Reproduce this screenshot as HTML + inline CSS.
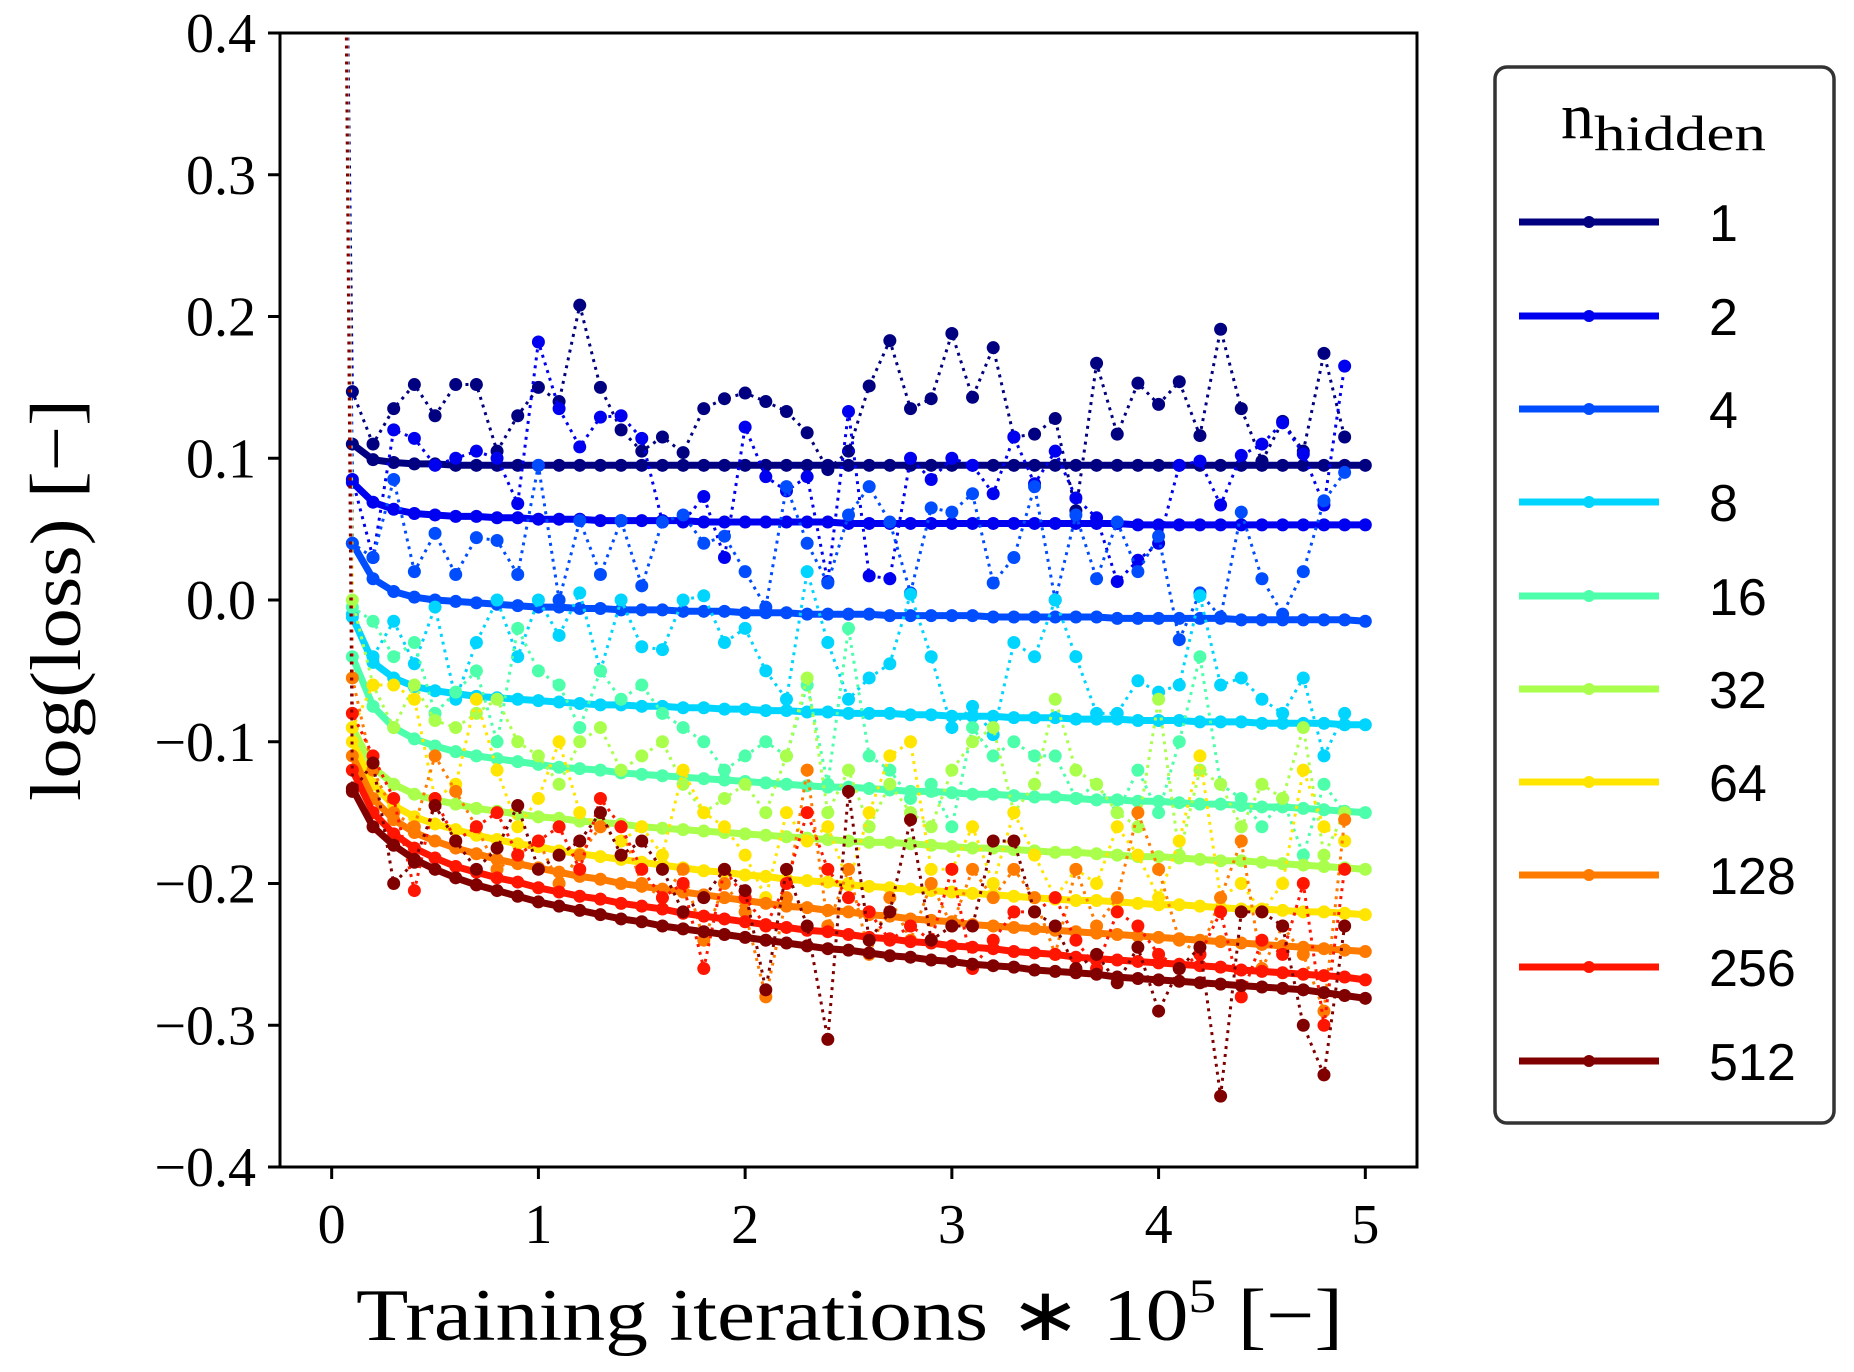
<!DOCTYPE html>
<html><head><meta charset="utf-8"><style>
html,body{margin:0;padding:0;background:#fff;}
svg{display:block;}
.tk{font-family:"Liberation Serif",serif;font-size:56px;fill:#000;}
.lg{font-family:"Liberation Sans",sans-serif;font-size:52px;fill:#000;}
</style></head><body>
<svg id="chart" width="1854" height="1372" viewBox="0 0 1854 1372" xmlns="http://www.w3.org/2000/svg">
<defs><clipPath id="plotclip"><rect x="280" y="33" width="1137" height="1134"/></clipPath></defs>
<rect x="0" y="0" width="1854" height="1372" fill="#fff"/>
<g id="series" clip-path="url(#plotclip)"></g>
<rect x="280" y="33" width="1137" height="1134" fill="none" stroke="#000" stroke-width="3"/>
<g id="axes"></g>
<text x="356" y="1340" textLength="987" lengthAdjust="spacingAndGlyphs" font-family="Liberation Serif, serif" font-size="74">Training iterations  ∗  10<tspan font-size="48" dy="-28">5</tspan><tspan dy="28"> [−]</tspan></text>
<text transform="translate(80,600) rotate(-90)" x="-201" y="0" textLength="402" lengthAdjust="spacingAndGlyphs" font-family="Liberation Serif, serif" font-size="72">log(loss) [−]</text>
<g id="legend">
<rect x="1495" y="67" width="339" height="1056" rx="12" fill="#fff" stroke="#333" stroke-width="3.5"/>
<text x="1561" y="138" font-family="Liberation Serif, serif" font-size="66">n<tspan font-size="50" dy="12" textLength="172" lengthAdjust="spacingAndGlyphs">hidden</tspan></text>
</g>
</svg>
<script>
const labels = ["1","2","4","8","16","32","64","128","256","512"];
const colors = ["#000080","#0000f1","#004dff","#00d5ff","#4dffaa","#aaff4d","#ffe500","#ff7b00","#ff1500","#800000"];
const xSmooth = [0.1,0.2,0.3,0.4,0.5,0.6,0.7,0.8,0.9,1.0,1.1,1.2,1.3,1.4,1.5,1.6,1.7,1.8,1.9,2.0,2.1,2.2,2.3,2.4,2.5,2.6,2.7,2.8,2.9,3.0,3.1,3.2,3.3,3.4,3.5,3.6,3.7,3.8,3.9,4.0,4.1,4.2,4.3,4.4,4.5,4.6,4.7,4.8,4.9,5.0];
const xNoisy = [0.1,0.2,0.3,0.4,0.5,0.6,0.7,0.8,0.9,1.0,1.1,1.2,1.3,1.4,1.5,1.6,1.7,1.8,1.9,2.0,2.1,2.2,2.3,2.4,2.5,2.6,2.7,2.8,2.9,3.0,3.1,3.2,3.3,3.4,3.5,3.6,3.7,3.8,3.9,4.0,4.1,4.2,4.3,4.4,4.5,4.6,4.7,4.8,4.9];
const spikeX = 0.06;
const spikeY = 0.6;
const smooth1 = [.110,.099,.097,.096,.096,.095,.095,.095,.095,.095,.095,.095,.095,.095,.095,.095,.095,.095,.095,.095,.095,.095,.095,.095,.095,.095,.095,.095,.095,.095,.095,.095,.095,.095,.095,.095,.095,.095,.095,.095,.095,.095,.095,.095,.095,.095,.095,.095,.095,.095];
const smooth2 = [.083,.069,.064,.061,.060,.059,.059,.058,.058,.057,.057,.057,.056,.056,.056,.056,.056,.055,.055,.055,.055,.055,.055,.055,.054,.054,.054,.054,.054,.054,.054,.054,.054,.054,.054,.054,.054,.054,.053,.053,.053,.053,.053,.053,.053,.053,.053,.053,.053,.053];
const smooth4 = [.040,.015,.006,.002,.000,-.001,-.002,-.003,-.004,-.005,-.005,-.006,-.006,-.007,-.007,-.007,-.008,-.008,-.008,-.009,-.009,-.009,-.010,-.010,-.010,-.010,-.011,-.011,-.011,-.011,-.011,-.012,-.012,-.012,-.012,-.012,-.012,-.013,-.013,-.013,-.013,-.013,-.013,-.014,-.014,-.014,-.014,-.014,-.014,-.015];
const smooth8 = [-.012,-.044,-.055,-.061,-.064,-.066,-.068,-.069,-.070,-.071,-.072,-.073,-.074,-.074,-.075,-.075,-.076,-.076,-.077,-.077,-.078,-.078,-.079,-.079,-.080,-.080,-.080,-.081,-.081,-.082,-.082,-.082,-.083,-.083,-.083,-.084,-.084,-.084,-.085,-.085,-.085,-.086,-.086,-.086,-.087,-.087,-.087,-.087,-.088,-.088];
const smooth16 = [-.040,-.075,-.090,-.098,-.103,-.107,-.110,-.112,-.114,-.116,-.118,-.119,-.120,-.122,-.123,-.124,-.125,-.126,-.127,-.128,-.129,-.130,-.131,-.132,-.132,-.133,-.134,-.135,-.135,-.136,-.137,-.137,-.138,-.139,-.139,-.140,-.141,-.141,-.142,-.142,-.143,-.144,-.144,-.145,-.146,-.146,-.147,-.148,-.149,-.150];
const smooth32 = [-.090,-.118,-.130,-.137,-.141,-.144,-.147,-.149,-.151,-.153,-.154,-.156,-.157,-.158,-.160,-.161,-.162,-.163,-.164,-.165,-.166,-.167,-.168,-.169,-.170,-.171,-.171,-.172,-.173,-.174,-.175,-.175,-.176,-.177,-.178,-.178,-.179,-.180,-.181,-.181,-.182,-.183,-.184,-.184,-.185,-.186,-.187,-.188,-.189,-.190];
const smooth64 = [-.100,-.130,-.145,-.153,-.158,-.162,-.166,-.169,-.172,-.174,-.177,-.179,-.181,-.183,-.185,-.187,-.189,-.191,-.192,-.194,-.195,-.197,-.198,-.199,-.201,-.202,-.203,-.204,-.205,-.206,-.207,-.208,-.209,-.210,-.211,-.212,-.212,-.213,-.214,-.215,-.215,-.216,-.217,-.218,-.218,-.219,-.220,-.220,-.221,-.222];
const smooth128 = [-.110,-.140,-.155,-.164,-.170,-.175,-.179,-.183,-.186,-.189,-.192,-.195,-.197,-.200,-.202,-.204,-.206,-.208,-.210,-.212,-.214,-.216,-.217,-.219,-.220,-.222,-.223,-.225,-.226,-.227,-.229,-.230,-.231,-.232,-.233,-.234,-.235,-.236,-.237,-.238,-.239,-.240,-.241,-.242,-.243,-.244,-.245,-.246,-.247,-.248];
const smooth256 = [-.120,-.150,-.165,-.175,-.182,-.188,-.192,-.196,-.199,-.203,-.206,-.209,-.211,-.214,-.216,-.218,-.221,-.223,-.225,-.227,-.229,-.231,-.233,-.234,-.236,-.238,-.239,-.241,-.242,-.244,-.245,-.246,-.248,-.249,-.250,-.252,-.253,-.254,-.255,-.256,-.257,-.258,-.259,-.261,-.262,-.263,-.264,-.265,-.266,-.268];
const smooth512 = [-.133,-.160,-.173,-.183,-.190,-.196,-.201,-.205,-.209,-.213,-.216,-.219,-.222,-.225,-.227,-.230,-.232,-.234,-.236,-.238,-.240,-.242,-.244,-.246,-.247,-.249,-.251,-.252,-.254,-.255,-.257,-.258,-.259,-.261,-.262,-.263,-.264,-.266,-.267,-.268,-.269,-.270,-.271,-.272,-.273,-.274,-.275,-.277,-.279,-.281];
const noisy1 = [.147,.110,.135,.152,.130,.152,.152,.105,.130,.150,.140,.208,.150,.120,.105,.115,.104,.135,.142,.146,.140,.133,.118,.092,.105,.151,.183,.135,.142,.188,.143,.178,.115,.117,.128,.063,.167,.117,.153,.138,.154,.116,.191,.135,.098,.126,.105,.174,.115];
const noisy2 = [.085,.030,.120,.114,.095,.100,.105,.100,.068,.182,.135,.108,.129,.130,.114,.055,.055,.073,.030,.122,.087,.077,.087,.013,.133,.017,.015,.100,.085,.100,.095,.075,.115,.082,.105,.072,.058,.013,.028,.040,.095,.098,.067,.102,.110,.125,.103,.067,.165];
const noisy4 = [.040,.030,.085,.020,.047,.018,.044,.042,.018,.095,.000,.056,.018,.056,.010,.055,.060,.040,.045,.020,-.005,.080,.040,.012,.060,.080,.055,.005,.065,.062,.075,.012,.030,.080,.000,.060,.015,.055,.020,.045,-.028,.005,-.012,.062,.015,-.010,.020,.070,.090];
const noisy8 = [-.010,-.040,-.015,-.045,-.005,-.070,-.030,.000,-.040,.000,-.025,.005,-.050,.000,-.033,-.035,.000,.003,-.030,-.020,-.050,-.070,.020,-.030,-.070,-.055,-.045,.004,-.040,-.090,-.075,-.095,-.030,-.040,.000,-.040,-.080,-.080,-.057,-.065,-.060,.003,-.060,-.055,-.070,-.080,-.055,-.110,-.080];
const noisy16 = [-.005,-.015,-.040,-.030,-.080,-.065,-.050,-.100,-.020,-.050,-.060,-.090,-.050,-.070,-.060,-.080,-.090,-.100,-.120,-.110,-.100,-.110,-.060,-.130,-.020,-.110,-.120,-.140,-.130,-.160,-.090,-.110,-.100,-.110,-.110,-.140,-.130,-.150,-.120,-.150,-.100,-.040,-.130,-.140,-.160,-.140,-.180,-.130,-.150];
const noisy32 = [.000,-.060,-.090,-.060,-.085,-.090,-.080,-.070,-.100,-.110,-.130,-.100,-.090,-.120,-.110,-.100,-.130,-.150,-.140,-.130,-.150,-.110,-.055,-.150,-.120,-.160,-.130,-.150,-.160,-.120,-.100,-.090,-.150,-.130,-.070,-.120,-.130,-.150,-.160,-.070,-.180,-.120,-.130,-.160,-.130,-.140,-.090,-.180,-.150];
const noisy64 = [-.090,-.060,-.060,-.070,-.140,-.130,-.070,-.120,-.160,-.140,-.100,-.150,-.160,-.170,-.160,-.180,-.120,-.150,-.160,-.180,-.210,-.150,-.170,-.160,-.200,-.150,-.110,-.100,-.190,-.190,-.160,-.200,-.150,-.180,-.210,-.190,-.200,-.160,-.180,-.210,-.170,-.110,-.210,-.200,-.220,-.200,-.120,-.160,-.170];
const noisy128 = [-.055,-.120,-.150,-.160,-.110,-.135,-.160,-.190,-.180,-.170,-.200,-.180,-.160,-.160,-.200,-.210,-.190,-.240,-.200,-.220,-.280,-.210,-.120,-.230,-.190,-.250,-.210,-.240,-.200,-.230,-.190,-.210,-.190,-.210,-.250,-.190,-.230,-.210,-.150,-.190,-.240,-.250,-.210,-.170,-.260,-.230,-.250,-.290,-.155];
const noisy256 = [-.080,-.110,-.140,-.205,-.140,-.170,-.160,-.150,-.180,-.170,-.160,-.190,-.140,-.160,-.190,-.210,-.200,-.260,-.190,-.210,-.230,-.200,-.150,-.190,-.210,-.220,-.240,-.230,-.240,-.190,-.260,-.240,-.220,-.220,-.210,-.240,-.260,-.220,-.230,-.250,-.260,-.250,-.220,-.280,-.240,-.250,-.200,-.300,-.190];
const noisy512 = [-.135,-.115,-.200,-.185,-.145,-.170,-.190,-.175,-.145,-.190,-.180,-.170,-.150,-.180,-.170,-.190,-.220,-.210,-.190,-.205,-.275,-.190,-.230,-.310,-.135,-.240,-.220,-.155,-.240,-.230,-.230,-.170,-.170,-.220,-.230,-.260,-.250,-.270,-.245,-.290,-.260,-.245,-.350,-.220,-.220,-.230,-.300,-.335,-.230];
const xTicks = [0,1,2,3,4,5];
const yTicks = [0.4,0.3,0.2,0.1,0.0,-0.1,-0.2,-0.3,-0.4];
const yTickLabels = ["0.4","0.3","0.2","0.1","0.0","−0.1","−0.2","−0.3","−0.4"];

const smoothAll = [smooth1,smooth2,smooth4,smooth8,smooth16,smooth32,smooth64,smooth128,smooth256,smooth512];
const noisyAll = [noisy1,noisy2,noisy4,noisy8,noisy16,noisy32,noisy64,noisy128,noisy256,noisy512];

const X0=280, X1=1417, Y0=33, Y1=1167, XMIN=-0.25, XMAX=5.25, YMIN=-0.4, YMAX=0.4;
function sx(v){return X0+(v-XMIN)/(XMAX-XMIN)*(X1-X0);}
function sy(v){return Y1-(v-YMIN)/(YMAX-YMIN)*(Y1-Y0);}
const NS="http://www.w3.org/2000/svg";
function mk(tag,attrs,parent){const e=document.createElementNS(NS,tag);for(const k in attrs)e.setAttribute(k,attrs[k]);parent.appendChild(e);return e;}

const sg=document.getElementById('series');
for(let s=0;s<labels.length;s++){
  const g=mk('g',{},sg);
  
  
  const nv=noisyAll[s];
  let d='M'+sx(spikeX).toFixed(1)+','+sy(spikeY).toFixed(1);
  for(let i=0;i<nv.length;i++)d+=' L'+sx(xNoisy[i]).toFixed(1)+','+sy(nv[i]).toFixed(1);
  const nl=mk('path',{d:d,fill:'none',stroke:colors[s],'stroke-width':3,'stroke-dasharray':'3,5'},g);
  
  
  for(let i=0;i<nv.length;i++){
    const c=mk('circle',{cx:sx(xNoisy[i]),cy:sy(nv[i]),r:6.5,fill:colors[s]},g);
    
    
  }
  const sv=smoothAll[s];
  let d2='';
  for(let i=0;i<sv.length;i++)d2+=(i?' L':'M')+sx(xSmooth[i]).toFixed(1)+','+sy(sv[i]).toFixed(1);
  const sl=mk('path',{d:d2,fill:'none',stroke:colors[s],'stroke-width':7,'stroke-linejoin':'round'},g);
  
  
  for(let i=0;i<sv.length;i++){
    const c=mk('circle',{cx:sx(xSmooth[i]),cy:sy(sv[i]),r:6.5,fill:colors[s]},g);
    
    
  }
}

const ax=document.getElementById('axes');
xTicks.forEach(t=>{
  const l=mk('line',{x1:sx(t),x2:sx(t),y1:Y1,y2:Y1+12,stroke:'#000','stroke-width':3},ax);
  
  
  const tx=mk('text',{x:sx(t),y:Y1+76,'text-anchor':'middle',class:'tk'},ax);
  
  
  tx.textContent=String(t);
});
yTicks.forEach((t,i)=>{
  const l=mk('line',{x1:X0-12,x2:X0,y1:sy(t),y2:sy(t),stroke:'#000','stroke-width':3},ax);
  
  
  const tx=mk('text',{x:X0-24,y:sy(t)+19,'text-anchor':'end',class:'tk'},ax);
  
  
  tx.textContent=yTickLabels[i];
});

const lg=document.getElementById('legend');
const legY=[222,316,409,502,596,689,782,875,967,1061];
labels.forEach((lab,i)=>{
  const g=mk('g',{},lg);
  
  
  mk('line',{x1:1519,x2:1659,y1:legY[i],y2:legY[i],stroke:colors[i],'stroke-width':7},g);
  mk('circle',{cx:1589,cy:legY[i],r:6,fill:colors[i]},g);
  const t=mk('text',{x:1709,y:legY[i]+19,class:'lg'},g);
  t.textContent=lab;
});
</script>
</body></html>
